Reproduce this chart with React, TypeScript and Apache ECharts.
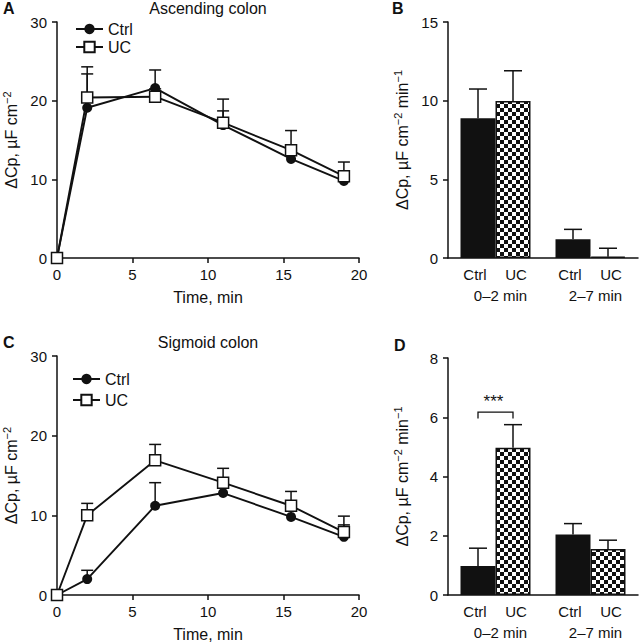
import React, { useEffect, useRef } from 'react';
import * as echarts from 'echarts';

// ---------- data ----------
const times = [0, 2, 6.5, 11, 15.5, 19];
const ascCtrl = [0, 19.1, 21.6, 16.9, 12.6, 9.8];
const ascCtrlErr = [0, 4.3, 2.3, 1.8, 1.0, 0.8];
const ascUC = [0, 20.4, 20.5, 17.2, 13.7, 10.4];
const ascUCErr = [0, 3.9, 1.0, 3.0, 2.5, 1.8];
const sigCtrl = [0, 2.0, 11.2, 12.8, 9.8, 7.3];
const sigCtrlErr = [0, 1.1, 2.9, 1.0, 0.8, 1.5];
const sigUC = [0, 10.0, 16.9, 14.1, 11.2, 7.9];
const sigUCErr = [0, 1.5, 2.0, 1.8, 1.8, 2.0];

const periods = ['0–2 min', '2–7 min'];
const groupLabels = ['Ctrl', 'UC'];
const ascRateCtrl = [8.88, 1.19];
const ascRateCtrlErr = [1.86, 0.63];
const ascRateUC = [9.98, 0.08];
const ascRateUCErr = [1.92, 0.54];
const sigRateCtrl = [0.98, 2.04];
const sigRateCtrlErr = [0.6, 0.37];
const sigRateUC = [4.97, 1.55];
const sigRateUCErr = [0.78, 0.3];
const sigBracket = [6.17, 5.96]; // bracket level, tick end (D)
const sigLabel = '***';

const FONT = '"Liberation Sans", Arial, Helvetica, sans-serif';
const INK = '#111';
const BAR_W = 35;

function makePattern() {
  const c = document.createElement('canvas');
  c.width = 8;
  c.height = 8;
  const g = c.getContext('2d')!;
  g.fillStyle = '#fff';
  g.fillRect(0, 0, 8, 8);
  g.fillStyle = INK;
  g.fillRect(0, 0, 4, 4);
  g.fillRect(4, 4, 4, 4);
  return { image: c, repeat: 'repeat', imageWidth: 8, imageHeight: 8 } as any;
}

const axisLine = { show: true, lineStyle: { color: INK, width: 1.5 } };
const axisTick = { show: true, length: 5, inside: false, lineStyle: { color: INK, width: 1.5 } };
const labelStyle = { color: INK, fontSize: 15, fontWeight: 'normal', fontFamily: FONT };
const nameStyle = {
  color: INK,
  fontSize: 16,
  fontWeight: 'normal',
  fontFamily: FONT,
  rich: {
    s: { fontSize: 11, fontFamily: FONT, color: INK, padding: [0, 0, 9, 0] },
  },
};

function timeAxis(gridIndex: number) {
  return {
    type: 'value',
    gridIndex,
    min: 0,
    max: 20,
    interval: 5,
    name: 'Time, min',
    nameLocation: 'middle',
    nameGap: 31,
    nameTextStyle: { color: INK, fontSize: 16, fontWeight: 'normal', fontFamily: FONT },
    axisLine,
    axisTick,
    axisLabel: { ...labelStyle, margin: 9 },
    splitLine: { show: false },
  };
}

function valueYAxis(gridIndex: number, max: number, interval: number, name: string) {
  return {
    type: 'value',
    gridIndex,
    min: 0,
    max,
    interval,
    name,
    nameLocation: 'middle',
    nameGap: 36,
    nameTextStyle: nameStyle,
    axisLine,
    axisTick,
    axisLabel: { ...labelStyle, margin: 10 },
    splitLine: { show: false },
  };
}

function catAxis(gridIndex: number) {
  return {
    type: 'category',
    gridIndex,
    data: periods,
    axisLine,
    axisTick: { show: false },
    axisLabel: {
      ...labelStyle,
      interval: 0,
      hideOverlap: false,
      margin: 6,
      lineHeight: 21,
      formatter: (v: string) =>
        `{g|${groupLabels[0]}}{g|${groupLabels[1]}}\n{m|${v}}`,
      rich: {
        g: { width: 41, align: 'center', fontSize: 15, fontFamily: FONT, color: INK, lineHeight: 21 },
        m: { align: 'center', fontSize: 15, fontFamily: FONT, color: INK, lineHeight: 21, padding: [0, 0, 0, 10] },
      },
    },
    splitLine: { show: false },
  };
}

const zip = (xs: number[], ys: number[], es?: number[]) =>
  xs.map((x, i) => (es ? [x, ys[i], es[i]] : [x, ys[i]]));

function errLine(capHalf: number) {
  return (_p: any, api: any) => {
    const x = api.value(0);
    const y = api.value(1);
    const e = api.value(2);
    const side = api.value(3) || 0;
    if (!e) return { type: 'group', children: [] };
    const p0 = api.coord([x, y]);
    const p1 = api.coord([x, y + e]);
    const cx = p0[0] + side * (BAR_W / 2);
    const st = { stroke: INK, lineWidth: 1.5 };
    return {
      type: 'group',
      children: [
        { type: 'line', shape: { x1: cx, y1: p0[1], x2: cx, y2: p1[1] }, style: st },
        { type: 'line', shape: { x1: cx - capHalf, y1: p1[1], x2: cx + capHalf, y2: p1[1] }, style: st },
      ],
    };
  };
}

function lineSeries(name: string, gi: number, ys: number[], isUC: boolean) {
  return {
    type: 'line',
    name,
    xAxisIndex: gi,
    yAxisIndex: gi,
    data: zip(times, ys),
    symbol: isUC ? 'rect' : 'circle',
    symbolSize: isUC ? 11 : 10,
    itemStyle: isUC
      ? { color: '#fff', borderColor: INK, borderWidth: 1.5 }
      : { color: INK, borderColor: INK, borderWidth: 0 },
    lineStyle: { color: INK, width: 1.9 },
    z: isUC ? 4 : 3,
    emphasis: { disabled: true },
  };
}

function errSeries(gi: number, ys: number[], es: number[]) {
  return {
    type: 'custom',
    xAxisIndex: gi,
    yAxisIndex: gi,
    data: zip(times, ys, es),
    renderItem: errLine(6),
    z: 1,
    silent: true,
  };
}

function barSeries(name: string, gi: number, ys: number[], isUC: boolean, pattern: any) {
  return {
    type: 'bar',
    name,
    xAxisIndex: gi,
    yAxisIndex: gi,
    data: ys,
    barWidth: BAR_W,
    barGap: '0%',
    itemStyle: isUC
      ? { color: pattern, borderColor: INK, borderWidth: 1.5 }
      : { color: INK },
    z: 2,
    emphasis: { disabled: true },
  };
}

function barErrSeries(gi: number, ys: number[], es: number[], side: number) {
  return {
    type: 'custom',
    xAxisIndex: gi,
    yAxisIndex: gi,
    data: ys.map((y, i) => [i, y, es[i], side]),
    renderItem: errLine(9),
    z: 3,
    silent: true,
  };
}

export default function App() {
  const ref = useRef<HTMLDivElement>(null);
  useEffect(() => {
    if (!ref.current) return;
    const chart = echarts.init(ref.current, undefined, { renderer: 'svg' });
    const pattern = makePattern();
    const rateName = 'ΔCp, µF cm{s|−2} min{s|−1}';
    const cumName = 'ΔCp, µF cm{s|−2}';
    const titleStyle = { fill: INK, fontSize: 16, fontFamily: FONT };
    const letterStyle = { fill: INK, fontSize: 16, fontWeight: 'bold', fontFamily: FONT };
    const legendText = { color: INK, fontSize: 16, fontWeight: 'normal', fontFamily: FONT };

    const option: any = {
      animation: false,
      backgroundColor: '#fff',
      grid: [
        { left: 57, top: 22, width: 302, height: 236, outerBoundsMode: 'none' },
        { left: 448, top: 22, width: 190, height: 236, outerBoundsMode: 'none' },
        { left: 57, top: 356, width: 302, height: 239, outerBoundsMode: 'none' },
        { left: 448, top: 358, width: 190, height: 237, outerBoundsMode: 'none' },
      ],
      xAxis: [timeAxis(0), catAxis(1), timeAxis(2), catAxis(3)],
      yAxis: [
        valueYAxis(0, 30, 10, cumName),
        valueYAxis(1, 15, 5, rateName),
        valueYAxis(2, 30, 10, cumName),
        valueYAxis(3, 8, 2, rateName),
      ],
      legend: [
        {
          data: ['Ctrl', 'UC'],
          orient: 'vertical',
          left: 70,
          top: 16,
          itemWidth: 27,
          itemHeight: 13,
          itemGap: 2,
          textStyle: legendText,
          selectedMode: false,
        },
        {
          data: ['Ctrl', 'UC'],
          orient: 'vertical',
          left: 67,
          top: 366,
          itemWidth: 27,
          itemHeight: 13,
          itemGap: 5,
          textStyle: legendText,
          selectedMode: false,
        },
      ],
      graphic: [
        { type: 'text', x: 208, y: 8, style: { ...titleStyle, text: 'Ascending colon', textAlign: 'center', textVerticalAlign: 'middle' } },
        { type: 'text', x: 208, y: 342, style: { ...titleStyle, text: 'Sigmoid colon', textAlign: 'center', textVerticalAlign: 'middle' } },
        { type: 'text', x: 3, y: 8, style: { ...letterStyle, text: 'A', textVerticalAlign: 'middle' } },
        { type: 'text', x: 392, y: 8, style: { ...letterStyle, text: 'B', textVerticalAlign: 'middle' } },
        { type: 'text', x: 3, y: 342, style: { ...letterStyle, text: 'C', textVerticalAlign: 'middle' } },
        { type: 'text', x: 394, y: 345, style: { ...letterStyle, text: 'D', textVerticalAlign: 'middle' } },
      ],
      series: [
        errSeries(0, ascCtrl, ascCtrlErr),
        errSeries(0, ascUC, ascUCErr),
        lineSeries('Ctrl', 0, ascCtrl, false),
        lineSeries('UC', 0, ascUC, true),
        errSeries(2, sigCtrl, sigCtrlErr),
        errSeries(2, sigUC, sigUCErr),
        lineSeries('Ctrl', 2, sigCtrl, false),
        lineSeries('UC', 2, sigUC, true),
        barSeries('Ctrl rate', 1, ascRateCtrl, false, pattern),
        barSeries('UC rate', 1, ascRateUC, true, pattern),
        barErrSeries(1, ascRateCtrl, ascRateCtrlErr, -1),
        barErrSeries(1, ascRateUC, ascRateUCErr, 1),
        barSeries('Ctrl rate', 3, sigRateCtrl, false, pattern),
        barSeries('UC rate', 3, sigRateUC, true, pattern),
        barErrSeries(3, sigRateCtrl, sigRateCtrlErr, -1),
        barErrSeries(3, sigRateUC, sigRateUCErr, 1),
        {
          type: 'custom',
          xAxisIndex: 3,
          yAxisIndex: 3,
          data: [[0, sigBracket[0], sigBracket[1]]],
          z: 5,
          silent: true,
          renderItem: (_p: any, api: any) => {
            const top = api.coord([api.value(0), api.value(1)]);
            const end = api.coord([api.value(0), api.value(2)]);
            const xl = top[0] - BAR_W / 2;
            const xr = top[0] + BAR_W / 2;
            return {
              type: 'group',
              children: [
                {
                  type: 'polyline',
                  shape: { points: [[xl, end[1]], [xl, top[1]], [xr, top[1]], [xr, end[1]]] },
                  style: { stroke: INK, lineWidth: 1.3, fill: 'none' },
                },
                {
                  type: 'text',
                  x: top[0] - 2,
                  y: top[1] - 2,
                  style: { text: sigLabel, fill: INK, fontSize: 17, fontFamily: FONT, textAlign: 'center', textVerticalAlign: 'bottom' },
                },
              ],
            };
          },
        },
      ],
    };
    chart.setOption(option);
    return () => chart.dispose();
  }, []);
  return (
    <div
      ref={ref}
      style={{ position: 'absolute', left: 0, top: 0, width: 639, height: 643, background: '#fff' }}
    />
  );
}
